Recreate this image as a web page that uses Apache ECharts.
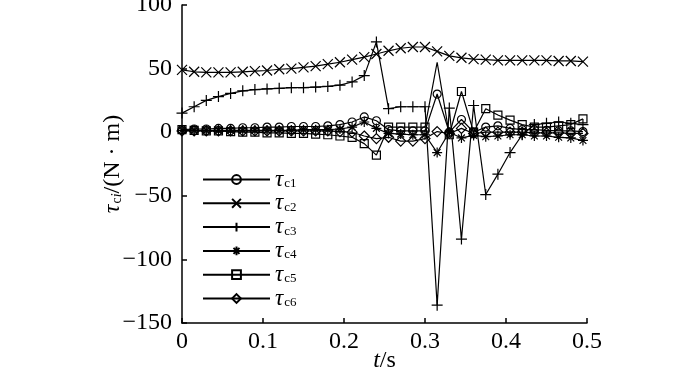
<!DOCTYPE html>
<html><head><meta charset="utf-8">
<script src="https://cdn.jsdelivr.net/npm/echarts@6/dist/echarts.min.js"></script>
<style>html,body{margin:0;padding:0;background:#fff}#c{width:700px;height:371px}</style>
</head><body><div id="c"></div>
<script>
const times = [0, 0.015, 0.03, 0.045, 0.06, 0.075, 0.09, 0.105, 0.12, 0.135, 0.15, 0.165, 0.18, 0.195, 0.21, 0.225, 0.24, 0.255, 0.27, 0.285, 0.3, 0.315, 0.33, 0.345, 0.36, 0.375, 0.39, 0.405, 0.42, 0.435, 0.45, 0.465, 0.48, 0.495];
const tc1 = [2, 2.5, 2.5, 3, 3, 3.5, 3.5, 4, 4, 4.5, 4.5, 4.5, 5, 6, 8, 12, 9, 2, 1, 1, 1, 30, 0, 10, 0, 4, 5, 3, 2, 2, 1.5, 1, 1, 0.5];
const tc2 = [49, 47.5, 47, 47, 47, 47.5, 48, 48.5, 49.5, 50, 51, 52, 53.5, 55, 57, 59, 61.5, 64, 66, 67, 67, 63.5, 60, 58.5, 57.5, 57, 56.5, 56.5, 56.5, 56.5, 56.5, 56, 56, 55.5];
const tc3 = [15, 20, 25, 28, 30.5, 32.5, 33.5, 34, 34.5, 35, 35, 35.5, 36, 37, 39.5, 44.5, 71, 18.5, 20, 20, 20, -136, 19, -84, 21, -49, -33, -16, -2, 6, 7, 8, 7, 6];
const tc4 = [1.5, 1.5, 1.5, 1.5, 1.5, 1.5, 1.5, 1.5, 1.5, 1.5, 2, 2, 2, 2.5, 4, 8, 3, -1, -1.5, -2, -2, -16, 0, -4.5, -2.5, -3.5, -3, -2, -2, -3, -3, -4, -4.5, -6.5];
const tc5 = [2, 1.5, 1, 1, 0.5, 0, 0, -0.5, -0.5, -1, -1, -1.5, -2, -3, -4, -9, -18, 4, 4, 4, 4, 55, -2, 32, 0, 18.5, 13.5, 9.5, 6, 4, 4, 5, 6, 10.5];
const tc6 = [1, 1, 1, 1, 1, 1, 1, 1, 1, 1, 1, 1, 1, 0.5, 0, -3, -5, -4, -7, -7, -5, 0.5, -1, 3, -1, 0, 0, 0, 0, -0.5, -0.5, -0.5, -1, -1];
const seriesNames = ['τc1', 'τc2', 'τc3', 'τc4', 'τc5', 'τc6'];
const xTicks = [0, 0.1, 0.2, 0.3, 0.4, 0.5];
const yTicks = [-150, -100, -50, 0, 50, 100];

const FONT = 'Liberation Serif';
const allValues = [tc1, tc2, tc3, tc4, tc5, tc6];
const symbols = ['circle', 'path://M0,0L10,10M10,0L0,10', 'path://M5,0L5,10M0,5L10,5',
  'path://M5,0L5,10M0,5L10,5M1.6,1.6L8.4,8.4M8.4,1.6L1.6,8.4', 'rect', 'diamond'];
const sizes = [8, 10, 11, 10, 8, 10];
// points drawn without a marker (series index -> point indices)
const hiddenMarks = {4: [21]};

const series = allValues.map((vals, k) => ({
  name: seriesNames[k], type: 'line',
  data: times.map((t, i) => {
    const item = {value: [t, vals[i]]};
    if (hiddenMarks[k] && hiddenMarks[k].indexOf(i) >= 0) item.symbol = 'none';
    return item;
  }),
  symbol: symbols[k], symbolSize: sizes[k], showAllSymbol: true,
  lineStyle: {color: '#000', width: 1.2},
  itemStyle: {color: 'transparent', borderColor: '#000', borderWidth: 1.2},
  emphasis: {disabled: true}, z: 2 + k, clip: false
}));

const chart = echarts.init(document.getElementById('c'));
chart.setOption({
  animation: false,
  backgroundColor: '#fff',
  grid: {left: 182, right: 113, top: 5, bottom: 48, containLabel: false, outerBoundsMode: 'none'},
  legend: {
    orient: 'vertical', left: 202, top: 168, padding: 0, itemWidth: 67, itemHeight: 11, itemGap: 0.8,
    data: seriesNames,
    formatter: n => '{t|τ}{s|' + n.slice(1) + '}',
    textStyle: {rich: {
      t: {fontFamily: FONT, fontStyle: 'italic', fontSize: 23, color: '#000', lineHeight: 20},
      s: {fontFamily: FONT, fontSize: 13, color: '#000', lineHeight: 12, padding: [8, 0, 0, 1]}
    }}
  },
  xAxis: {
    type: 'value', min: xTicks[0], max: xTicks[xTicks.length - 1], interval: 0.1,
    axisLine: {onZero: false, lineStyle: {color: '#000', width: 1.5}},
    axisTick: {inside: true, length: 5, lineStyle: {color: '#000', width: 1.5}},
    axisLabel: {color: '#000', fontFamily: FONT, fontSize: 24, margin: 7},
    splitLine: {show: false},
    name: '{t|t}{n|/s}', nameLocation: 'middle', nameGap: 26, nameMoveOverlap: false,
    nameTextStyle: {rich: {
      t: {fontFamily: FONT, fontStyle: 'italic', fontSize: 24, color: '#000'},
      n: {fontFamily: FONT, fontSize: 24, color: '#000'}
    }}
  },
  yAxis: {
    type: 'value', min: yTicks[0], max: yTicks[yTicks.length - 1], interval: 50,
    axisLine: {onZero: false, lineStyle: {color: '#000', width: 1.5}},
    axisTick: {inside: true, length: 5, lineStyle: {color: '#000', width: 1.5}},
    axisLabel: {color: '#000', fontFamily: FONT, fontSize: 24, margin: 10,
      formatter: v => v < 0 ? '\u2212' + (-v) : String(v)},
    splitLine: {show: false},
    name: '{t|τ}{s|c}{si|i}{n|/(N · m)}', nameLocation: 'middle', nameGap: 57, nameMoveOverlap: false,
    nameTextStyle: {rich: {
      t: {fontFamily: FONT, fontStyle: 'italic', fontSize: 24, color: '#000'},
      s: {fontFamily: FONT, fontSize: 14, color: '#000', padding: [9, 0, 0, 1]},
      si: {fontFamily: FONT, fontStyle: 'italic', fontSize: 14, color: '#000', padding: [9, 0, 0, 0]},
      n: {fontFamily: FONT, fontSize: 24, color: '#000'}
    }}
  },
  series: series
});
</script></body></html>
